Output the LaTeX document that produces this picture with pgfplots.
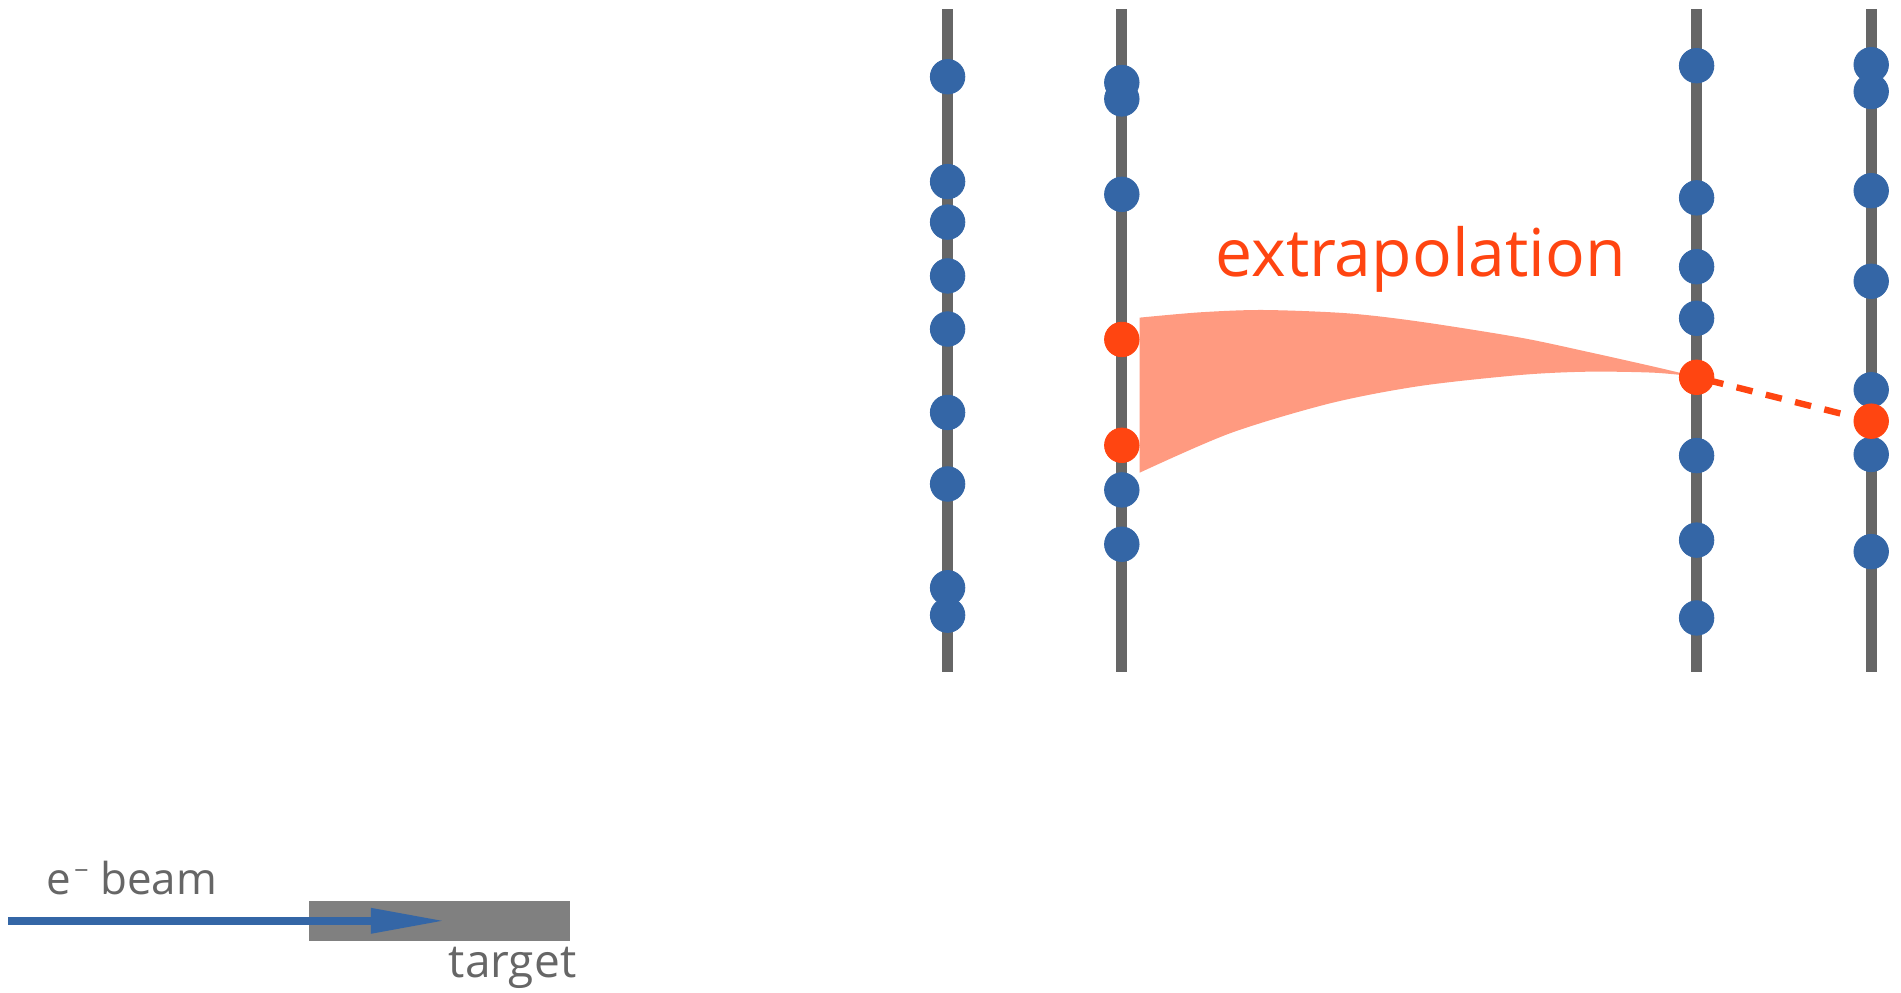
\documentclass[border=0pt]{standalone}
\usepackage{pgfplots}
\pgfplotsset{compat=1.18}
\usepgfplotslibrary{fillbetween}
\usepackage{fontspec}
\setmainfont{Open Sans}
\definecolor{hitblue}{RGB}{52,102,166}
\definecolor{hitred}{RGB}{255,69,17}
\definecolor{band}{RGB}{255,154,128}
\definecolor{layergray}{RGB}{102,102,102}
\definecolor{targetgray}{RGB}{128,128,128}
\definecolor{textgray}{RGB}{102,102,102}
\begin{document}
\begin{tikzpicture}
\begin{axis}[
  name=ax,
  scale only axis, width=15.68cm, height=8.19cm,
  xmin=0, xmax=1568, ymin=0, ymax=819, y dir=reverse,
  axis lines=none, clip=false,
]
% detector layers
\addplot[layergray, line width=2.65pt, line cap=butt] coordinates {(781.6,7.5) (781.6,554.5)};
\addplot[layergray, line width=2.65pt, line cap=butt] coordinates {(925.3,7.5) (925.3,554.5)};
\addplot[layergray, line width=2.65pt, line cap=butt] coordinates {(1399.4,7.5) (1399.4,554.5)};
\addplot[layergray, line width=2.65pt, line cap=butt] coordinates {(1543.4,7.5) (1543.4,554.5)};
% extrapolation band
\addplot[name path=upper, draw=none, smooth] coordinates {
 (940,262) (990,257.6) (1042,255.7) (1111,258.4) (1171,265.3) (1254,278.5) (1309,290.1) (1364,302.4) (1399,310.7)};
\addplot[name path=lower, draw=none, smooth] coordinates {
 (940,389.9) (1014.5,357.4) (1097,332.7) (1171,318.4) (1254,309.3) (1309,306.6) (1364,307.4) (1399,310.7)};
\addplot[band, draw=none] fill between[of=upper and lower];
% dashed extrapolation
\addplot[hitred, line width=1.5pt, dash pattern=on 3.87pt off 3.21pt, line cap=butt]
 coordinates {(1408.2,313.4) (1519,341.3)};
% hits
\addplot[hitblue, only marks, mark=*, mark size=4.05pt, mark options={line width=0.2pt, draw=hitblue, fill=hitblue}] coordinates {
 (781.6,63.3) (781.6,149.8) (781.6,183.2) (781.6,227.6) (781.6,271.4) (781.6,340.2) (781.6,399.2) (781.6,484.8) (781.6,507.4)
 (925.3,68.1) (925.3,81.6) (925.3,160.3) (925.3,404.1) (925.3,448.9)
 (1399.4,54.2) (1399.4,163.2) (1399.4,220) (1399.4,262.5) (1399.4,375.8) (1399.4,445.5) (1399.4,509.7)
 (1543.4,53.4) (1543.4,75.5) (1543.4,157.3) (1543.4,232) (1543.4,321.5) (1543.4,374.8) (1543.4,455)
};
\addplot[hitred, only marks, mark=*, mark size=4.05pt, mark options={line width=0.2pt, draw=hitred, fill=hitred}] coordinates {
 (925.3,280) (925.3,367.3) (1399.4,311.2) (1543.4,347.4)
};
% target and beam
\addplot[fill=targetgray, draw=none] coordinates {(255,743) (470,743) (470,776) (255,776)} -- cycle;
\addplot[hitblue, line width=1.95pt, line cap=butt] coordinates {(7,759.5) (310,759.5)};
\addplot[fill=hitblue, draw=none] coordinates {(306,748.8) (364.5,759.5) (306,770.2)} -- cycle;
% labels
\node[anchor=base west, inner sep=0pt, text=hitred, font=\fontsize{15.5}{18}\selectfont] at (axis cs:1002,228) {extrapolation};
\node[anchor=base west, inner sep=0pt, text=textgray, font=\fontsize{10.3}{13}\selectfont] at (axis cs:38,737.5) {e\kern0.6pt\raisebox{3.4pt}{\fontsize{6}{7}\selectfont\char"2212} beam};
\node[anchor=base east, inner sep=0pt, text=textgray, font=\fontsize{10.8}{13}\selectfont] at (axis cs:476,806.5) {target};
\end{axis}
\pgfresetboundingbox
\useasboundingbox (ax.south west) rectangle (ax.north east);
\end{tikzpicture}
\end{document}
